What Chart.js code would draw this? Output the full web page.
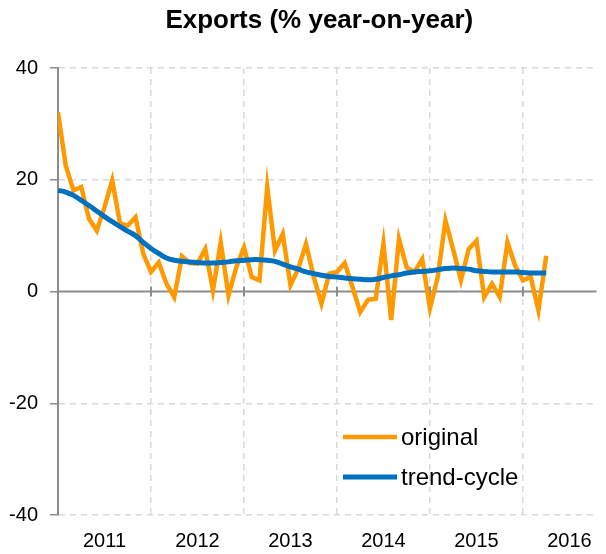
<!DOCTYPE html>
<html>
<head>
<meta charset="utf-8">
<script src="https://cdn.jsdelivr.net/npm/chart.js@4/dist/chart.umd.min.js"></script>
<style>
  body { margin: 0; background: #fff; }
  #wrap { width: 606px; height: 554px; }
</style>
</head>
<body>
<div id="wrap"><canvas id="exportsChart"></canvas></div>
<script>
// ===== DATA =====
const years = ["2011", "2012", "2013", "2014", "2015", "2016"];

// month index, Jan 2011 = 0 ... Apr 2016 = 63
const months = [
  0, 1, 2, 3, 4, 5, 6, 7, 8, 9, 10, 11,
  12, 13, 14, 15, 16, 17, 18, 19, 20, 21, 22, 23,
  24, 25, 26, 27, 28, 29, 30, 31, 32, 33, 34, 35,
  36, 37, 38, 39, 40, 41, 42, 43, 44, 45, 46, 47,
  48, 49, 50, 51, 52, 53, 54, 55, 56, 57, 58, 59,
  60, 61, 62, 63,
];

const original = [
  32.1, 22.5, 18.1, 18.7, 13.0, 10.9, 15.1, 19.9, 12.2, 11.8, 13.3, 6.8,
  3.5, 5.2, 1.4, -1.0, 6.3, 5.1, 5.0, 7.6, 0.2, 8.8, -0.7, 4.3,
  7.9, 2.6, 2.0, 18.7, 7.3, 10.3, 1.1, 4.1, 8.5, 2.6, -2.2, 3.2,
  3.5, 5.1, 0.8, -3.7, -1.5, -1.3, 8.6, -5.1, 9.4, 4.3, 3.5, 5.8,
  -3.0, 2.6, 12.7, 7.5, 2.0, 7.6, 9.1, -1.0, 1.4, -1.0, 8.8, 4.6,
  2.0, 2.6, -3.4, 6.4,
];

const trendCycle = [
  18.1, 17.8, 17.2, 16.3, 15.4, 14.4, 13.4, 12.5, 11.6, 10.8, 10.0, 8.8,
  7.7, 6.8, 6.0, 5.6, 5.4, 5.3, 5.2, 5.1, 5.1, 5.2, 5.3, 5.5,
  5.6, 5.7, 5.7, 5.6, 5.4, 4.9, 4.4, 4.0, 3.5, 3.2, 2.9, 2.7,
  2.6, 2.4, 2.3, 2.2, 2.1, 2.2, 2.5, 2.8, 3.0, 3.3, 3.5, 3.6,
  3.7, 3.9, 4.1, 4.2, 4.1, 4.0, 3.7, 3.6, 3.5, 3.5, 3.5, 3.5,
  3.4, 3.3, 3.3, 3.3,
];

const yTicks = [-40, -20, 0, 20, 40];
// year boundaries get a grid line, mid-year gets the label
const xTicks = [0, 6, 12, 18, 24, 30, 36, 42, 48, 54, 60, 66];

const titleText = "Exports (% year-on-year)";

const FONT = "'Liberation Sans', Arial, sans-serif";
const GRID = "#d9d9d9";
const AXIS = "#8c8c8c";

// ===== PLUGINS =====
const zeroLine = {
  id: "zeroLine",
  beforeDatasetsDraw(chart) {
    const { ctx, chartArea, scales } = chart;
    const y0 = scales.y.getPixelForValue(0);
    ctx.save();
    ctx.strokeStyle = AXIS;
    ctx.lineWidth = 2;
    ctx.beginPath();
    ctx.moveTo(chartArea.left, y0);
    ctx.lineTo(chartArea.right, y0);
    xTicks
      .filter((v) => v > 0 && v % 12 === 0)
      .forEach((v) => {
        const x = scales.x.getPixelForValue(v);
        ctx.moveTo(x, y0 - 5);
        ctx.lineTo(x, y0 + 5);
      });
    ctx.stroke();
    ctx.restore();
  },
};

// title sits a bit left of the plot centre in the original
const offsetTitle = {
  id: "offsetTitle",
  afterDraw(chart) {
    const { ctx, chartArea } = chart;
    ctx.save();
    ctx.font = "bold 26px " + FONT;
    ctx.textAlign = "center";
    ctx.textBaseline = "middle";
    ctx.fillStyle = "#000";
    ctx.fillText(titleText, (chartArea.left + chartArea.right) / 2 - 8, 21);
    ctx.restore();
  },
};

const insideLegend = {
  id: "insideLegend",
  afterDraw(chart) {
    const { ctx, chartArea } = chart;
    const items = [...chart.data.datasets].sort((a, b) => b.order - a.order);
    const left = chartArea.left + 285;
    ctx.save();
    ctx.font = "24px " + FONT;
    ctx.textBaseline = "middle";
    ctx.fillStyle = "#000";
    items.forEach((ds, i) => {
      const y = chartArea.bottom - 78 + i * 40;
      ctx.strokeStyle = ds.borderColor;
      ctx.lineWidth = ds.borderWidth;
      ctx.beginPath();
      ctx.moveTo(left, y);
      ctx.lineTo(left + 54, y);
      ctx.stroke();
      ctx.fillText(ds.label, left + 58, y + 1);
    });
    ctx.restore();
  },
};

// ===== CHART =====
new Chart(document.getElementById("exportsChart"), {
  type: "line",
  data: {
    labels: months,
    datasets: [
      {
        label: "trend-cycle",
        data: trendCycle,
        borderColor: "#0070c0",
        borderWidth: 5,
        pointRadius: 0,
        tension: 0.4,
        order: 1,
      },
      {
        label: "original",
        data: original,
        borderColor: "#ff9900",
        borderWidth: 4.5,
        pointRadius: 0,
        tension: 0,
        borderJoinStyle: "miter",
        order: 2,
      },
    ],
  },
  options: {
    responsive: true,
    maintainAspectRatio: false,
    animation: false,
    layout: { padding: { left: 0, right: 6, top: 68, bottom: 0 } },
    plugins: {
      legend: { display: false },
      tooltip: { enabled: false },
      title: { display: false },
    },
    scales: {
      x: {
        type: "linear",
        min: 0,
        max: 69.5,
        afterBuildTicks: (scale) => {
          scale.ticks = xTicks.map((v) => ({ value: v }));
        },
        afterFit: (scale) => {
          scale.height = 39;
        },
        grid: {
          color: (c) =>
            c.tick && c.tick.value > 0 && c.tick.value % 12 === 0
              ? GRID
              : "transparent",
          lineWidth: 1.5,
          drawTicks: false,
        },
        border: { display: false, dash: [6, 5] },
        ticks: {
          autoSkip: false,
          maxRotation: 0,
          padding: 14,
          color: "#000",
          font: { family: FONT, size: 20 },
          callback: (v) => (v % 12 === 6 ? years[(v - 6) / 12] : ""),
        },
      },
      y: {
        min: -40,
        max: 40,
        afterBuildTicks: (scale) => {
          scale.ticks = yTicks.map((v) => ({ value: v }));
        },
        afterFit: (scale) => {
          scale.width = 58;
        },
        grid: {
          color: (c) => (c.tick && c.tick.value === 0 ? "transparent" : GRID),
          lineWidth: 1.5,
          tickLength: 8,
          tickColor: AXIS,
          tickWidth: 1.5,
        },
        border: { display: true, color: AXIS, width: 2, dash: [6, 5] },
        ticks: {
          padding: 12,
          color: "#000",
          font: { family: FONT, size: 20 },
        },
      },
    },
  },
  plugins: [zeroLine, offsetTitle, insideLegend],
});
</script>
</body>
</html>
